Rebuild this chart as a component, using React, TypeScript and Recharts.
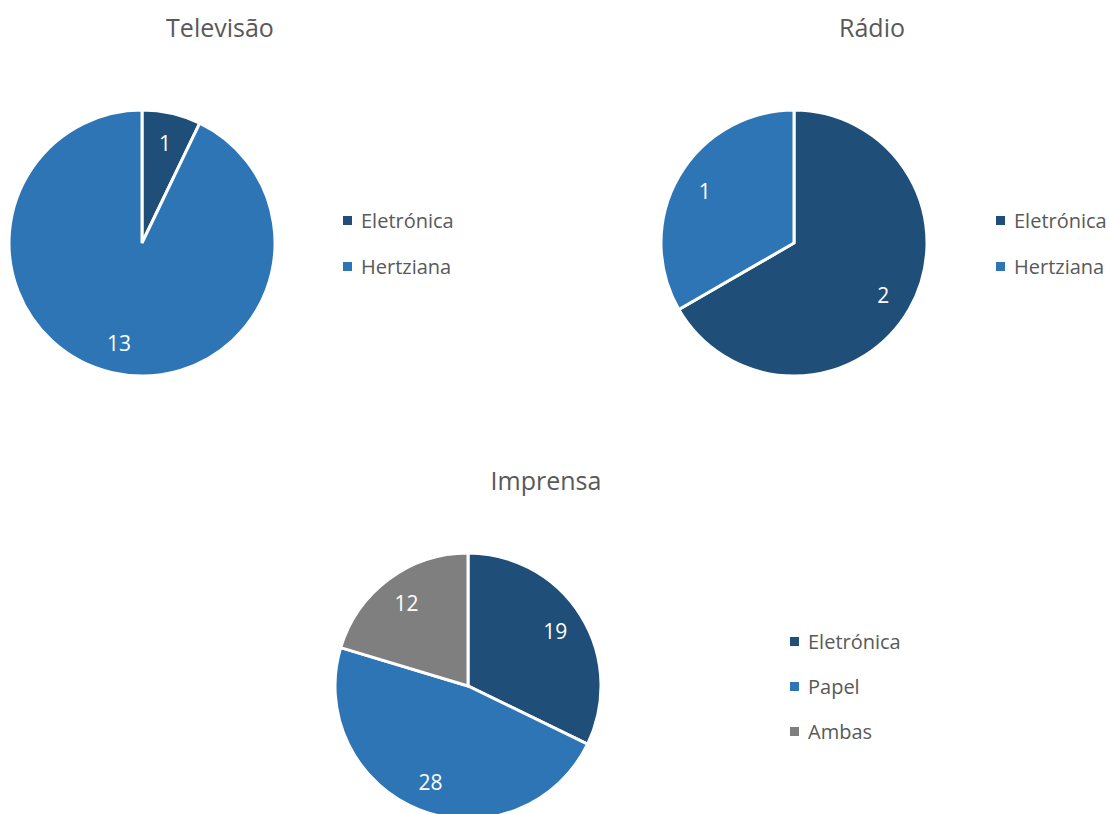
import { PieChart, Pie, Cell } from "recharts";

const DARK = "#1F4E79";
const MID = "#2E75B6";
const GRAY = "#7F7F7F";
const TEXT = "#595959";
const FONT = "'Open Sans', 'Noto Sans', sans-serif";

const tvNames = ["Eletrónica", "Hertziana"];
const tvValues = [1, 13];
const radioNames = ["Eletrónica", "Hertziana"];
const radioValues = [2, 1];
const pressNames = ["Eletrónica", "Papel", "Ambas"];
const pressValues = [19, 28, 12];

const tvColors = [DARK, MID];
const radioColors = [DARK, MID];
const pressColors = [DARK, MID, GRAY];

const toRows = (names: string[], values: number[]) => names.map((name, i) => ({ name, value: values[i] }));

const RAD = Math.PI / 180;

function InsideLabel({ cx, cy, midAngle, outerRadius, value }: any) {
  const r = outerRadius * 0.775;
  const x = cx + r * Math.cos(-midAngle * RAD);
  const y = cy + r * Math.sin(-midAngle * RAD);
  return (
    <text x={x} y={y} fill="#fff" fontSize={21} fontFamily={FONT} textAnchor="middle" dominantBaseline="central">
      {value}
    </text>
  );
}

function LegendBlock({ names, colors, left, top, gap }: { names: string[]; colors: string[]; left: number; top: number; gap: number }) {
  return (
    <div style={{ position: "absolute", left, top }}>
      {names.map((n, i) => (
        <div
          key={n}
          style={{ position: "absolute", top: i * gap, left: 0, display: "flex", alignItems: "center", whiteSpace: "nowrap", height: 26, transform: "translateY(-13px)" }}
        >
          <span style={{ width: 9, height: 9, background: colors[i], display: "inline-block", marginRight: 9 }} />
          <span style={{ color: TEXT, fontSize: 20, fontFamily: FONT }}>{n}</span>
        </div>
      ))}
    </div>
  );
}

function Title({ text, x, y }: { text: string; x: number; y: number }) {
  return (
    <div style={{ position: "absolute", left: x - 150, top: y - 18, width: 300, textAlign: "center", color: TEXT, fontSize: 25, fontFamily: FONT, lineHeight: "36px" }}>
      {text}
    </div>
  );
}

export default function App() {
  const R = 133;
  const pies = [
    { key: "tv", data: toRows(tvNames, tvValues), colors: tvColors, cx: 142, cy: 243 },
    { key: "radio", data: toRows(radioNames, radioValues), colors: radioColors, cx: 794, cy: 243 },
    { key: "press", data: toRows(pressNames, pressValues), colors: pressColors, cx: 468, cy: 686 },
  ];
  return (
    <div style={{ position: "absolute", left: 0, top: 0, width: 1110, height: 814, background: "#fff", overflow: "hidden" }}>
      <PieChart width={1110} height={814} margin={{ top: 0, right: 0, bottom: 0, left: 0 }} style={{ position: "absolute", left: 0, top: 0 }}>
        {pies.map((p) => (
          <Pie
            key={p.key}
            data={p.data}
            dataKey="value"
            nameKey="name"
            cx={p.cx}
            cy={p.cy}
            outerRadius={R}
            startAngle={90}
            endAngle={-270}
            stroke="#fff"
            strokeWidth={3}
            label={InsideLabel}
            labelLine={false}
            isAnimationActive={false}
          >
            {p.data.map((_, i) => (
              <Cell key={i} fill={p.colors[i]} />
            ))}
          </Pie>
        ))}
      </PieChart>
      <Title text="Televisão" x={220} y={27} />
      <Title text="Rádio" x={872} y={27} />
      <Title text="Imprensa" x={546} y={480} />
      <LegendBlock names={tvNames} colors={tvColors} left={343} top={220} gap={46} />
      <LegendBlock names={radioNames} colors={radioColors} left={996} top={220} gap={46} />
      <LegendBlock names={pressNames} colors={pressColors} left={790} top={641} gap={45} />
    </div>
  );
}
